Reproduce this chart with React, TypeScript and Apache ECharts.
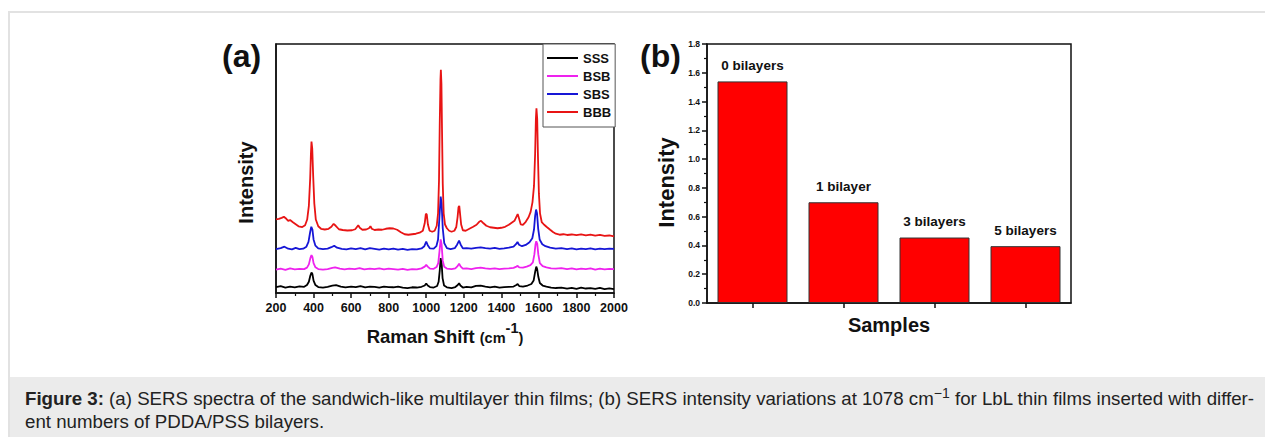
import React, { useEffect, useRef } from "react";
import * as echarts from "echarts";

const FONT = "'Liberation Sans', Arial, sans-serif";

// Panel (a): Raman shift (cm-1) vs. relative intensity (arbitrary units, stacked offsets)
const sss: number[][] = [[200,2.4],[225,2.8],[250,2.2],[275,2.6],[300,2.3],[325,2.7],[350,2.5],[365,3.2],[375,4.5],[383,7],[389,8.2],[394,7.6],[400,5],[410,3.2],[425,2.4],[450,2.2],[475,2.5],[500,3],[520,3.2],[545,2.6],[570,2.3],[600,2.6],[625,2.4],[650,2.8],[675,2.3],[700,2.6],[725,2.5],[750,2.2],[775,2.6],[800,2.4],[825,2.3],[850,2.6],[875,2.2],[900,2.0],[925,2.3],[950,2.2],[975,2.5],[992,3],[1000,3.8],[1008,3],[1020,2.4],[1040,2.2],[1058,2.8],[1066,4.5],[1072,9],[1077,14],[1082,12],[1087,6],[1095,3],[1110,2.3],[1135,2],[1155,2.4],[1168,3.2],[1175,3.9],[1182,3],[1195,2.2],[1215,2.5],[1240,2.3],[1265,2.9],[1290,3],[1315,2.6],[1340,2.3],[1365,2.6],[1390,2.2],[1415,2.4],[1440,2.5],[1465,2.6],[1480,3.2],[1487,3.6],[1495,2.8],[1515,2.6],[1540,3],[1560,3.6],[1572,5],[1580,8.5],[1586,10.6],[1591,9.5],[1597,6.5],[1605,4],[1620,3],[1640,2.6],[1665,2.2],[1690,2],[1720,2.2],[1750,1.8],[1775,2.1],[1800,1.7],[1825,2.2],[1850,1.8],[1875,2],[1900,1.7],[1925,2.1],[1950,1.6],[1975,1.9],[2000,1.6]];

const bsb: number[][] = [[200,9.4],[225,9.8],[250,9.3],[275,9.9],[300,9.5],[325,9.7],[350,9.6],[365,10.2],[375,11.5],[383,14],[389,15.2],[394,14.5],[400,12],[410,10.3],[425,9.6],[450,9.4],[475,9.6],[500,10.1],[515,10.3],[540,9.8],[565,9.5],[590,9.8],[620,9.6],[645,10],[670,9.5],[700,9.8],[725,9.6],[750,9.9],[775,9.5],[800,9.8],[825,9.6],[850,9.4],[875,9.7],[900,9.3],[925,9.6],[950,9.5],[975,9.9],[992,10.6],[1000,11.3],[1008,10.6],[1020,9.8],[1040,9.7],[1055,10.4],[1064,12],[1071,17],[1077,21.5],[1082,19.5],[1088,13],[1096,10.5],[1110,9.8],[1135,9.6],[1155,9.9],[1167,10.8],[1175,11.8],[1183,10.7],[1195,9.8],[1215,9.9],[1240,9.6],[1265,10],[1290,10.2],[1315,9.9],[1340,9.7],[1365,9.9],[1390,9.6],[1415,9.8],[1440,9.9],[1465,10.1],[1480,10.6],[1487,10.9],[1495,10.3],[1515,10.2],[1535,10.6],[1555,11.2],[1568,12.3],[1576,15.5],[1582,19.5],[1586,20.8],[1591,19.8],[1597,15.5],[1605,12],[1620,10.8],[1640,10.3],[1665,9.9],[1690,9.8],[1720,10],[1750,9.6],[1775,9.9],[1800,9.5],[1825,9.8],[1850,9.6],[1875,9.9],[1900,9.4],[1925,9.8],[1950,9.5],[1975,9.7],[2000,9.6]];

const sbs: number[][] = [[200,17.6],[225,18.0],[245,18.6],[265,17.8],[285,17.5],[305,18.1],[325,17.6],[345,17.8],[362,18.6],[373,20.5],[382,24.5],[388,26.6],[394,25.5],[400,21.5],[410,19],[425,17.9],[450,17.6],[475,17.8],[495,18.4],[510,19],[525,18.2],[550,17.7],[575,17.5],[600,17.9],[625,17.6],[650,18],[675,17.5],[700,18],[725,17.7],[750,17.4],[775,17.8],[800,17.5],[825,17.8],[850,17.4],[875,17.7],[900,17.3],[925,17.6],[950,17.5],[975,17.9],[990,18.8],[1000,20.6],[1008,19.2],[1020,17.9],[1040,17.8],[1054,18.8],[1063,21.5],[1070,30],[1077,38.7],[1082,36],[1088,26],[1096,20],[1110,18],[1130,17.6],[1152,18],[1165,19.5],[1175,21],[1183,19.5],[1195,17.9],[1215,18],[1240,17.8],[1265,18.1],[1290,18.3],[1315,18],[1340,17.8],[1365,18.1],[1390,17.7],[1415,17.9],[1440,18.2],[1465,18.6],[1478,19.6],[1486,20.5],[1494,19.4],[1510,18.8],[1530,19.3],[1550,20.4],[1565,22],[1574,25.5],[1580,31],[1585,33.5],[1590,32],[1596,26],[1604,21.5],[1618,19.6],[1635,18.8],[1660,18.2],[1690,17.8],[1720,18],[1750,17.6],[1775,17.9],[1800,17.5],[1825,17.8],[1850,17.6],[1875,17.9],[1900,17.5],[1925,17.8],[1950,17.6],[1975,17.8],[2000,17.7]];

const bbb: number[][] = [[200,29.6],[215,29.8],[230,30.2],[242,30.6],[255,29.8],[265,29],[275,29.3],[290,28.4],[305,27.6],[320,26.8],[340,26.5],[355,27.2],[366,29.5],[375,35],[382,46],[386,56],[389,60.8],[393,58],[398,47],[404,36],[412,29.5],[425,26.8],[440,25.8],[460,25.5],[480,25.8],[495,26.6],[507,27.8],[518,27],[535,25.6],[555,25.3],[580,25.1],[605,25.2],[622,25.6],[632,26.6],[638,27.2],[646,26.2],[660,25.4],[680,25.5],[695,26],[703,26.8],[710,25.8],[725,25.3],[745,25.5],[765,25.4],[785,25.8],[805,26],[825,25.9],[845,25.4],[865,24.4],[885,23.6],[905,23.4],[925,23.6],[945,23.8],[965,24.2],[982,25],[992,28],[998,31.8],[1003,31.5],[1009,27.5],[1018,25],[1032,24.6],[1045,25],[1056,27],[1063,32],[1068,45],[1072,68],[1076,86],[1078,89.6],[1081,84],[1084,66],[1088,44],[1093,32],[1100,27.5],[1110,26],[1122,25],[1135,24.6],[1150,25],[1160,26.5],[1167,30.5],[1172,34.5],[1176,35],[1180,32],[1186,27.5],[1195,25.2],[1210,25],[1230,25.8],[1250,26.6],[1268,27.4],[1282,28.6],[1292,29],[1305,28],[1320,27],[1340,26.4],[1360,26.2],[1380,26],[1400,26.2],[1420,26.6],[1440,27.4],[1455,28.2],[1470,29],[1480,30.6],[1487,31.7],[1494,30],[1503,27.6],[1515,27.4],[1530,28.6],[1545,30.4],[1556,32.6],[1566,36.5],[1574,43],[1580,56],[1584,70],[1587,74.2],[1591,70],[1595,55],[1600,40],[1606,32],[1615,28.5],[1628,27.4],[1642,26.5],[1660,25.4],[1675,24.5],[1690,23.8],[1710,23.4],[1730,23.6],[1750,23.3],[1775,23.5],[1800,23.2],[1825,23.5],[1850,23.1],[1875,23.4],[1900,23],[1925,23.3],[1950,22.9],[1975,23.1],[2000,22.7]];

const spectraNames = ["SSS", "BSB", "SBS", "BBB"];
const spectraColors = ["#000000", "#ee22ee", "#1616d6", "#e81414"];

// Panel (b)
const samples = ["0 bilayers", "1 bilayer", "3 bilayers", "5 bilayers"];
const intensities = [1.54, 0.70, 0.455, 0.395];

export default function App() {
  const ref = useRef<HTMLDivElement>(null);

  useEffect(() => {
    if (!ref.current) return;
    const chart = echarts.init(ref.current, undefined, { renderer: "svg" });
    const spectra = [sss, bsb, sbs, bbb];
    const option: any = {
      animation: false,
      textStyle: { fontFamily: FONT },
      grid: [
        { left: 276, top: 44, width: 338, height: 249, show: true, borderColor: "#111", borderWidth: 1.5, backgroundColor: "transparent" },
        { left: 707, top: 44, width: 364, height: 259, show: true, borderColor: "#111", borderWidth: 1.5, backgroundColor: "transparent" },
      ],
      xAxis: [
        {
          gridIndex: 0,
          type: "value",
          min: 200,
          max: 2000,
          interval: 200,
          name: "{a|Raman Shift }{b|(cm}{c|-1}{b|)}",
          nameLocation: "middle",
          nameGap: 32,
          nameTextStyle: {
            rich: {
              a: { fontSize: 18.5, fontWeight: "bold", color: "#111", lineHeight: 22, verticalAlign: "middle", fontFamily: FONT },
              b: { fontSize: 14.5, fontWeight: "bold", color: "#111", lineHeight: 22, verticalAlign: "middle", fontFamily: FONT, padding: [3, 0, 0, 0] },
              c: { fontSize: 14.5, fontWeight: "bold", color: "#111", lineHeight: 22, verticalAlign: "middle", fontFamily: FONT, padding: [0, 0, 16, 0] },
            },
          },
          axisLine: { show: true, lineStyle: { color: "#111", width: 1.5 } },
          axisTick: { show: true, inside: false, length: 5, lineStyle: { color: "#111", width: 1.5 } },
          minorTick: { show: true, splitNumber: 2, length: 3, lineStyle: { color: "#111", width: 1.2 } },
          axisLabel: { fontSize: 12.5, fontWeight: "bold", color: "#111", margin: 8, fontFamily: FONT, formatter: (v: number) => String(v) },
          splitLine: { show: false },
          minorSplitLine: { show: false },
        },
        {
          gridIndex: 1,
          type: "category",
          data: samples,
          name: "Samples",
          nameLocation: "middle",
          nameGap: 12,
          nameTextStyle: { fontSize: 20, fontWeight: "bold", color: "#111", verticalAlign: "top", fontFamily: FONT },
          axisLine: { show: true, lineStyle: { color: "#111", width: 1.5 } },
          axisTick: { show: true, alignWithLabel: true, inside: false, length: 5, lineStyle: { color: "#111", width: 1.5 } },
          axisLabel: { show: false },
          splitLine: { show: false },
        },
      ],
      yAxis: [
        {
          gridIndex: 0,
          type: "value",
          min: 0,
          max: 100,
          name: "Intensity",
          nameLocation: "middle",
          nameGap: 20,
          nameTextStyle: { fontSize: 20, fontWeight: "bold", color: "#111", fontFamily: FONT, padding: [0, 28, 0, 0] },
          axisLine: { show: true, lineStyle: { color: "#111", width: 1.5 } },
          axisTick: { show: false },
          axisLabel: { show: false },
          splitLine: { show: false },
        },
        {
          gridIndex: 1,
          type: "value",
          min: 0,
          max: 1.8,
          interval: 0.2,
          name: "Intensity",
          nameLocation: "middle",
          nameGap: 30,
          nameTextStyle: { fontSize: 22, fontWeight: "bold", color: "#111", fontFamily: FONT, padding: [0, 18, 0, 0] },
          axisLine: { show: true, lineStyle: { color: "#111", width: 1.5 } },
          axisTick: { show: true, inside: false, length: 5, lineStyle: { color: "#111", width: 1.5 } },
          minorTick: { show: true, splitNumber: 2, length: 3, lineStyle: { color: "#111", width: 1.2 } },
          axisLabel: { fontSize: 8.5, fontWeight: "bold", color: "#111", margin: 7, formatter: (v: number) => v.toFixed(1), fontFamily: FONT },
          splitLine: { show: false },
          minorSplitLine: { show: false },
        },
      ],
      legend: {
        orient: "vertical",
        left: 543,
        top: 44,
        padding: [7, 4, 8, 4],
        itemWidth: 31,
        itemHeight: 2,
        itemGap: 4,
        icon: "rect",
        borderColor: "#555",
        borderWidth: 1,
        backgroundColor: "#fff",
        data: spectraNames,
        textStyle: { fontSize: 13, fontWeight: "bold", color: "#111", fontFamily: FONT, lineHeight: 14 },
      },
      graphic: [
        { type: "text", left: 222, top: 40, style: { text: "(a)", font: `bold 32px ${FONT}`, fill: "#111" } },
        { type: "text", left: 640, top: 40, style: { text: "(b)", font: `bold 32px ${FONT}`, fill: "#111" } },
      ],
      series: [
        ...spectra.map((d, i) => ({
          name: spectraNames[i],
          type: "line",
          xAxisIndex: 0,
          yAxisIndex: 0,
          data: d,
          showSymbol: false,
          symbol: "none",
          lineStyle: { color: spectraColors[i], width: 1.8 },
          itemStyle: { color: spectraColors[i] },
          z: 2 + i,
        })),
        {
          name: "SERS intensity",
          type: "bar",
          xAxisIndex: 1,
          yAxisIndex: 1,
          data: intensities,
          barWidth: 70,
          itemStyle: { color: "#ff0000", borderColor: "#333", borderWidth: 1 },
          label: {
            show: true,
            position: "top",
            distance: 9,
            formatter: "{b}",
            fontSize: 13.5,
            fontWeight: "bold",
            color: "#111",
            fontFamily: FONT,
          },
        },
      ],
    };
    chart.setOption(option);
    return () => chart.dispose();
  }, []);

  return (
    <div style={{ position: "absolute", left: 0, top: 0, width: 1265, height: 437, overflow: "hidden", background: "#fff" }}>
      <div ref={ref} style={{ position: "absolute", left: 0, top: 0, width: 1265, height: 377 }} />
      <div style={{ position: "absolute", left: 9, top: 11, width: 1256, height: 2, background: "#e2e2e2" }} />
      <div style={{ position: "absolute", left: 8, top: 11, width: 2, height: 426, background: "#e2e2e2" }} />
      <div
        style={{
          position: "absolute",
          left: 10,
          top: 377,
          width: 1255,
          height: 60,
          background: "#ebebeb",
          fontFamily: FONT,
          fontSize: 18.7,
          lineHeight: "23px",
          color: "#222",
          boxSizing: "border-box",
          paddingLeft: 15,
          paddingTop: 10,
          whiteSpace: "nowrap",
        }}
      >
        <div>
          <b>Figure 3:</b> (a) SERS spectra of the sandwich-like multilayer thin films; (b) SERS intensity variations at 1078 cm
          <sup style={{ fontSize: "0.75em", lineHeight: 0 }}>−1</sup> for LbL thin films inserted with differ-
        </div>
        <div>ent numbers of PDDA/PSS bilayers.</div>
      </div>
    </div>
  );
}
